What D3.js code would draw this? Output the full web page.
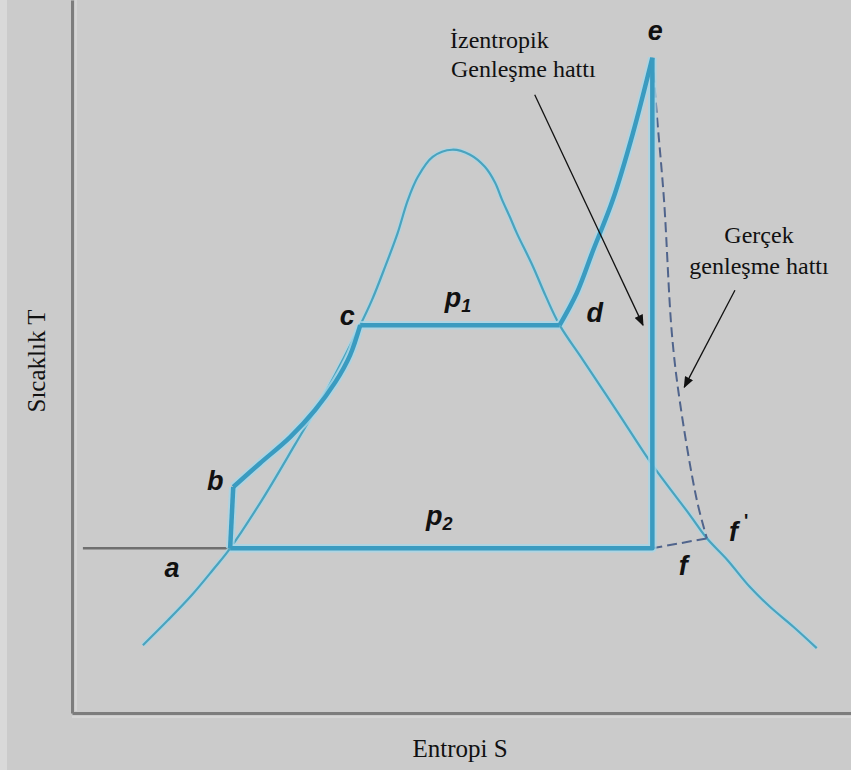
<!DOCTYPE html>
<html>
<head>
<meta charset="utf-8">
<script src="https://cdn.jsdelivr.net/npm/d3@7"></script>
<style>
  body { margin: 0; background: #cbcbcb; }
  #canvas { width: 851px; height: 770px; }
</style>
</head>
<body>
<div id="canvas"></div>
<script>
"use strict"

/* Data: entropy (s) and temperature (T) on a 0-100 scale */
// saturation dome (liquid line, top, vapour line)
let domeS = [9.1, 12.3, 15.5, 18.1, 20.3, 24.4, 28.6, 32.9, 37.0, 38.5, 40.2, 41.8, 43.1, 44.4, 46.3, 48.8,
             51.1, 53.0, 54.3, 55.2, 56.2, 57.1, 59.1, 60.8, 62.6, 65.6, 70.1, 74.5, 79.3, 81.5, 84.1, 87.0, 89.6, 92.6, 95.6];
let domeT = [9.5, 13.0, 16.7, 20.1, 23.1, 29.9, 37.6, 45.7, 54.4, 57.9, 62.6, 67.3, 71.9, 75.2, 78.0, 79.0,
             78.3, 76.6, 74.4, 72.0, 69.6, 67.3, 62.8, 58.5, 54.4, 49.5, 42.1, 34.8, 27.8, 24.5, 21.5, 17.7, 14.9, 12.1, 9.1];

// cycle state points
let pointNames = ["a", "b", "c", "d", "e", "f", "f'"];
let pointS = [20.3, 20.7, 37.0, 62.6, 74.5, 74.5, 81.5];
let pointT = [23.1, 31.7, 54.4, 54.4, 91.9, 23.1, 24.5];

// b -> c (heating of liquid)
let bcS = [20.7, 24.1, 28.0, 31.2, 33.8, 35.7, 37.0];
let bcT = [31.7, 35.0, 38.7, 42.5, 46.4, 50.2, 54.4];

// d -> e (superheating)
let deS = [62.6, 64.8, 66.9, 69.4, 72.0, 74.5];
let deT = [54.4, 58.9, 64.9, 71.9, 81.3, 91.9];

// e -> f' real expansion (dashed)
let realS = [74.5, 75.1, 76.0, 77.0, 78.0, 80.2, 81.5];
let realT = [91.9, 83.6, 71.9, 53.3, 43.9, 29.9, 24.5];

// p2 isobar extension left of a
let isobarS = [1.4, 20.3];
let isobarT = [23.1, 23.1];

// annotation arrows [fromS, fromT, toS, toT]
let arrowIsentropic = [59.4, 86.7, 73.3, 54.4];
let arrowReal = [85.1, 59.3, 78.6, 45.7];

/* Drawing configuration */
let svgWidth = 851;
let svgHeight = 770;
let lineColor = "#3a9bc0";
let haloColor = "#a6d6e7";
let domeColor = "#4aa3be";

let svg = d3.select("#canvas")
    .append("svg")
    .attr("width", svgWidth)
    .attr("height", svgHeight);

svg.append("rect")
    .attr("width", svgWidth)
    .attr("height", svgHeight)
    .attr("fill", "#cbcbcb");

svg.append("rect")
    .attr("width", 7)
    .attr("height", svgHeight)
    .attr("fill", "#d9d9d9");

let defs = svg.append("defs");
defs.append("marker")
    .attr("id", "arrow")
    .attr("viewBox", "0 0 10 8")
    .attr("refX", 9)
    .attr("refY", 4)
    .attr("markerWidth", 12)
    .attr("markerHeight", 9)
    .attr("markerUnits", "userSpaceOnUse")
    .attr("orient", "auto")
    .append("path")
    .attr("d", "M0,0 L10,4 L0,8 Z")
    .attr("fill", "#111");

/* Scales */
let xScale = d3.scaleLinear().domain([0, 100]).range([72, 851]);
let yScale = d3.scaleLinear().domain([0, 100]).range([713, 0]);

function zip(s, t) {
    return s.map(function (v, i) { return [v, t[i]]; });
}

let smooth = d3.line()
    .x(function (d) { return xScale(d[0]); })
    .y(function (d) { return yScale(d[1]); })
    .curve(d3.curveCatmullRom.alpha(0.5));

let straight = d3.line()
    .x(function (d) { return xScale(d[0]); })
    .y(function (d) { return yScale(d[1]); });

/* Axes (plain frame, no ticks) */
svg.append("g")
    .attr("transform", "translate(0," + yScale(0) + ")")
    .call(d3.axisBottom(xScale).tickValues([]).tickSizeOuter(0));
svg.append("g")
    .attr("transform", "translate(" + xScale(0) + ",0)")
    .call(d3.axisLeft(yScale).tickValues([]).tickSizeOuter(0));
svg.selectAll(".domain")
    .attr("stroke", "#7d7d7d")
    .attr("stroke-width", 3);

// faint light shadow lines next to the axes
svg.append("line")
    .attr("x1", xScale(0) + 4).attr("x2", xScale(0) + 4)
    .attr("y1", 0).attr("y2", yScale(0) - 2)
    .attr("stroke", "#d8d8d8").attr("stroke-width", 1.5);
svg.append("line")
    .attr("x1", xScale(0)).attr("x2", svgWidth)
    .attr("y1", yScale(0) + 4).attr("y2", yScale(0) + 4)
    .attr("stroke", "#dadada").attr("stroke-width", 1.5);

/* p2 isobar extension */
svg.append("path")
    .attr("d", straight(zip(isobarS, isobarT)))
    .attr("fill", "none")
    .attr("stroke", "#6f6f6f")
    .attr("stroke-width", 2.5);

/* Saturation dome */
let domePts = zip(domeS, domeT);
svg.append("path")
    .attr("d", smooth(domePts))
    .attr("fill", "none")
    .attr("stroke", haloColor)
    .attr("stroke-opacity", 0.7)
    .attr("stroke-width", 5);
svg.append("path")
    .attr("d", smooth(domePts))
    .attr("fill", "none")
    .attr("stroke", domeColor)
    .attr("stroke-width", 2.2);

/* Real expansion line e -> f' and f -> f' (dashed) */
let fIdx = pointNames.indexOf("f");
let fpIdx = pointNames.indexOf("f'");
svg.append("path")
    .attr("d", smooth(zip(realS, realT)))
    .attr("fill", "none")
    .attr("stroke", "#50648c")
    .attr("stroke-width", 2)
    .attr("stroke-dasharray", "10,5");
svg.append("path")
    .attr("d", straight([[pointS[fIdx], pointT[fIdx]], [pointS[fpIdx], pointT[fpIdx]]]))
    .attr("fill", "none")
    .attr("stroke", "#50648c")
    .attr("stroke-width", 2)
    .attr("stroke-dasharray", "10,5");

/* Cycle: a-b, b-c, c-d, d-e, e-f, f-a */
function pt(name) {
    let i = pointNames.indexOf(name);
    return [pointS[i], pointT[i]];
}
let cyclePaths = [
    straight([pt("a"), pt("b")]),
    smooth(zip(bcS, bcT)),
    straight([pt("c"), pt("d")]),
    smooth(zip(deS, deT)),
    straight([pt("e"), pt("f"), pt("a")])
];

svg.selectAll("path.halo")
    .data(cyclePaths)
    .join("path")
    .attr("class", "halo")
    .attr("d", function (d) { return d; })
    .attr("fill", "none")
    .attr("stroke", haloColor)
    .attr("stroke-opacity", 0.8)
    .attr("stroke-width", 8.5)
    .attr("stroke-linejoin", "round");

svg.selectAll("path.cycle")
    .data(cyclePaths)
    .join("path")
    .attr("class", "cycle")
    .attr("d", function (d) { return d; })
    .attr("fill", "none")
    .attr("stroke", lineColor)
    .attr("stroke-width", 4.5)
    .attr("stroke-linejoin", "round");

/* State point labels */
let labelFont = "'Liberation Sans', Arial, sans-serif";
let labelOffsets = {
    "a": [-58, 29],
    "b": [-18, 3],
    "c": [-13, 0],
    "d": [35, -3],
    "e": [3, -18],
    "f": [31, 27]
};
Object.keys(labelOffsets).forEach(function (name) {
    let p = pt(name);
    svg.append("text")
        .attr("x", xScale(p[0]) + labelOffsets[name][0])
        .attr("y", yScale(p[1]) + labelOffsets[name][1])
        .attr("text-anchor", "middle")
        .attr("font-family", labelFont)
        .attr("font-weight", "bold")
        .attr("font-style", "italic")
        .attr("font-size", 27)
        .attr("fill", "#111")
        .text(name);
});

// f' label
let fp = pt("f'");
let fpLabel = svg.append("text")
    .attr("x", xScale(fp[0]) + 22)
    .attr("y", yScale(fp[1]) + 3)
    .attr("font-family", labelFont)
    .attr("font-weight", "bold")
    .attr("font-style", "italic")
    .attr("font-size", 27)
    .attr("fill", "#111");
fpLabel.append("tspan").text("f");
fpLabel.append("tspan").attr("dx", 6).attr("dy", -14).attr("font-size", 18).attr("font-style", "normal").text("'");

// pressure labels p1, p2
let pressureLabels = [
    {name: "1", s: (pointS[2] + pointS[3]) / 2, T: pointT[2], dy: -18},
    {name: "2", s: (pointS[0] + pointS[5]) / 2, T: pointT[0], dy: -23}
];
pressureLabels.forEach(function (d) {
    let t = svg.append("text")
        .attr("x", xScale(d.s) - 2)
        .attr("y", yScale(d.T) + d.dy)
        .attr("text-anchor", "middle")
        .attr("font-family", labelFont)
        .attr("font-weight", "bold")
        .attr("font-style", "italic")
        .attr("font-size", 27)
        .attr("fill", "#111");
    t.append("tspan").text("p");
    t.append("tspan").attr("dy", 5).attr("font-size", 18).text(d.name);
});

/* Annotations */
let serif = "'Liberation Serif', 'DejaVu Serif', serif";
let annoSize = 24;
svg.append("text")
    .attr("x", 450).attr("y", 48)
    .attr("font-family", serif).attr("font-size", annoSize).attr("fill", "#111")
    .text("İzentropik");
svg.append("text")
    .attr("x", 451).attr("y", 77)
    .attr("font-family", serif).attr("font-size", annoSize).attr("fill", "#111")
    .text("Genleşme hattı");
svg.append("text")
    .attr("x", 759).attr("y", 243)
    .attr("text-anchor", "middle")
    .attr("font-family", serif).attr("font-size", annoSize).attr("fill", "#111")
    .text("Gerçek");
svg.append("text")
    .attr("x", 759).attr("y", 274)
    .attr("text-anchor", "middle")
    .attr("font-family", serif).attr("font-size", annoSize).attr("fill", "#111")
    .text("genleşme hattı");

[arrowIsentropic, arrowReal].forEach(function (a) {
    svg.append("line")
        .attr("x1", xScale(a[0])).attr("y1", yScale(a[1]))
        .attr("x2", xScale(a[2])).attr("y2", yScale(a[3]))
        .attr("stroke", "#111")
        .attr("stroke-width", 1.3)
        .attr("marker-end", "url(#arrow)");
});

/* Axis titles */
svg.append("text")
    .attr("x", 460).attr("y", 757)
    .attr("text-anchor", "middle")
    .attr("font-family", serif).attr("font-size", 25).attr("fill", "#111")
    .text("Entropi S");
svg.append("text")
    .attr("transform", "translate(45,361) rotate(-90)")
    .attr("text-anchor", "middle")
    .attr("font-family", serif).attr("font-size", 25).attr("fill", "#111")
    .text("Sıcaklık T");
</script>
</body>
</html>
